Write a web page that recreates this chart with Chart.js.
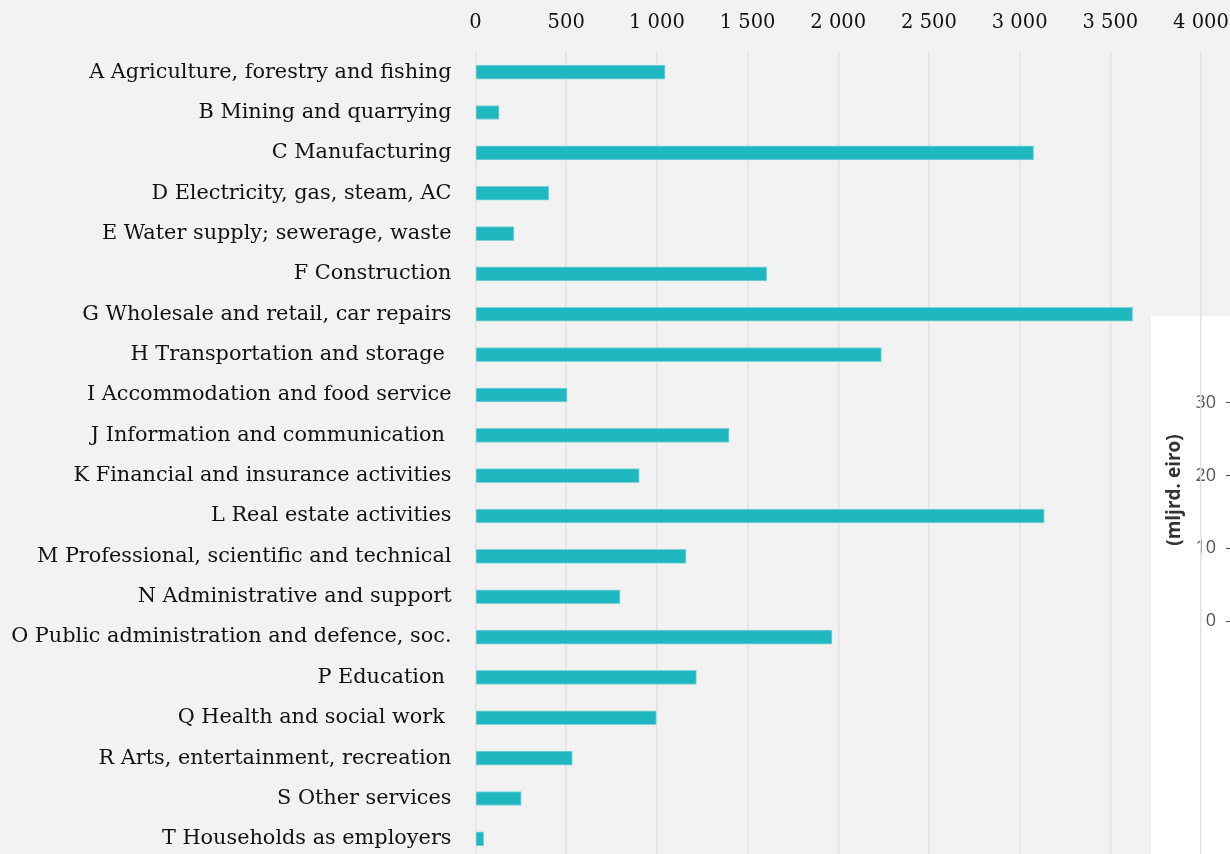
<!DOCTYPE html>
<html>
<head>
<meta charset="utf-8">
<script src="https://cdn.jsdelivr.net/npm/chart.js@4/dist/chart.umd.min.js"></script>
<style>
  html, body { margin: 0; padding: 0; background: #f2f2f2; }
  body { width: 1230px; height: 854px; overflow: hidden; position: relative; }
  #panel { position: absolute; left: 1151px; top: 316px; width: 160px; height: 538px; background: #ffffff; z-index: 1; }
  #main { position: absolute; left: 0; top: 0; z-index: 2; }
</style>
</head>
<body>
<div id="panel"><canvas id="panel-chart" width="160" height="538"></canvas></div>
<canvas id="main" width="1230" height="870"></canvas>
<script>
// categorias (el espacio final es parte del texto original)
const categories = [
  'A Agriculture, forestry and fishing',
  'B Mining and quarrying',
  'C Manufacturing',
  'D Electricity, gas, steam, AC',
  'E Water supply; sewerage, waste',
  'F Construction',
  'G Wholesale and retail, car repairs',
  'H Transportation and storage ',
  'I Accommodation and food service',
  'J Information and communication ',
  'K Financial and insurance activities',
  'L Real estate activities',
  'M Professional, scientific and technical',
  'N Administrative and support',
  'O Public administration and defence, soc.',
  'P Education ',
  'Q Health and social work ',
  'R Arts, entertainment, recreation',
  'S Other services',
  'T Households as employers'
];

// valores
const values = [1045, 130, 3077, 404, 212, 1606, 3623, 2238, 505, 1398, 903, 3136, 1161, 797, 1966, 1218, 997, 534, 252, 45];

const xTicks = [0, 500, 1000, 1500, 2000, 2500, 3000, 3500, 4000];

// eje del grafico que queda detras (recortado)
const panelTicks = [0, 10, 20, 30];
const panelLabels = [''];
const panelValues = [];

function conEspacios(v) {
  return String(v).replace(/\B(?=(\d{3})+(?!\d))/g, ' ');
}

const serif = '"DejaVu Serif", "Liberation Serif", serif';

// grafico principal
new Chart(document.getElementById('main').getContext('2d'), {
  type: 'bar',
  data: {
    labels: categories,
    datasets: [{
      data: values,
      backgroundColor: '#1fb8c1',
      borderColor: '#7fd3d8',
      borderWidth: 1,
      borderSkipped: 'left',
      barThickness: 14
    }]
  },
  options: {
    indexAxis: 'y',
    responsive: false,
    animation: false,
    layout: { padding: { left: 0, right: 29, top: 0, bottom: 11 } },
    plugins: { legend: { display: false }, tooltip: { enabled: false } },
    scales: {
      x: {
        position: 'top',
        min: 0,
        max: 4000,
        afterBuildTicks: s => { s.ticks = xTicks.map(v => ({ value: v })); },
        afterFit: s => { s.height = 52; s.paddingLeft = 0; s.paddingRight = 0; },
        grid: { color: '#e2e2e2', lineWidth: 1.5, drawTicks: false },
        border: { display: false },
        ticks: {
          padding: 17,
          color: '#111111',
          font: { family: serif, size: 19.5 },
          callback: v => conEspacios(v)
        }
      },
      y: {
        afterFit: s => { s.width = 475.5; s.paddingTop = 0; s.paddingBottom = 0; },
        grid: { display: false, drawTicks: false },
        border: { display: false },
        ticks: {
          padding: 24,
          autoSkip: false,
          color: '#111111',
          font: { family: serif, size: 20.8 }
        }
      }
    }
  }
});

// panel blanco del otro grafico
new Chart(document.getElementById('panel-chart').getContext('2d'), {
  type: 'line',
  data: { labels: panelLabels, datasets: [{ data: panelValues }] },
  options: {
    responsive: false,
    animation: false,
    layout: { padding: { left: 0, right: 0, top: 43, bottom: 233 } },
    plugins: { legend: { display: false }, tooltip: { enabled: false } },
    scales: {
      x: { display: false },
      y: {
        min: 0,
        max: 36,
        afterBuildTicks: s => { s.ticks = panelTicks.map(v => ({ value: v })); },
        afterFit: s => { s.width = 81; },
        grid: { drawOnChartArea: false, tickLength: 6, color: '#505050' },
        border: { display: false },
        title: {
          display: true,
          text: '(mljrd. eiro)',
          color: '#333333',
          padding: { top: 12, bottom: 0 },
          font: { family: '"Open Sans", sans-serif', size: 19, weight: 'bold' }
        },
        ticks: {
          padding: 10,
          color: '#555555',
          font: { family: '"Open Sans", sans-serif', size: 18 }
        }
      }
    }
  }
});
</script>
</body>
</html>
